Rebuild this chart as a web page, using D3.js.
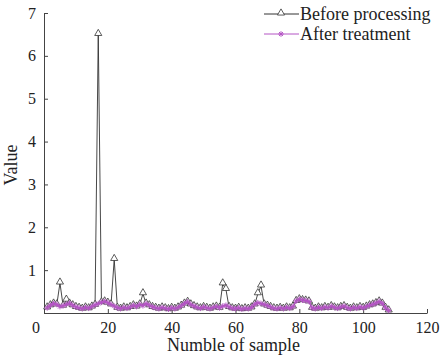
<!DOCTYPE html>
<html><head><meta charset="utf-8">
<script src="https://cdn.jsdelivr.net/npm/d3@7"></script>
<style>body{margin:0;background:#fff}svg{display:block}text{font-family:"Liberation Serif","Times New Roman",serif}</style>
</head><body><svg id="c" width="441" height="355"></svg>
<script>
const samples = d3.range(1, 109);
const beforeProcessing = [
0.12,0.17,0.21,0.19,0.70,0.16,0.30,0.21,0.17,0.13,
0.11,0.09,0.12,0.10,0.14,0.18,6.50,0.24,0.26,0.23,
0.19,1.25,0.11,0.09,0.12,0.10,0.13,0.17,0.14,0.19,
0.45,0.21,0.17,0.13,0.11,0.09,0.12,0.10,0.08,0.11,
0.09,0.12,0.16,0.21,0.25,0.19,0.15,0.12,0.10,0.13,
0.11,0.09,0.12,0.14,0.11,0.68,0.55,0.13,0.10,0.09,
0.11,0.08,0.10,0.09,0.12,0.19,0.45,0.63,0.19,0.16,
0.13,0.10,0.09,0.11,0.09,0.12,0.10,0.14,0.27,0.31,
0.29,0.28,0.26,0.11,0.09,0.12,0.10,0.13,0.11,0.15,
0.12,0.10,0.13,0.15,0.11,0.09,0.12,0.10,0.13,0.11,
0.14,0.17,0.19,0.22,0.26,0.21,0.11,0.05];
const afterTreatment = [
0.12,0.18,0.22,0.20,0.15,0.17,0.20,0.23,0.18,0.14,
0.12,0.10,0.13,0.11,0.15,0.19,0.22,0.25,0.27,0.24,
0.20,0.16,0.12,0.10,0.13,0.11,0.14,0.18,0.15,0.20,
0.17,0.22,0.18,0.14,0.12,0.10,0.13,0.11,0.09,0.12,
0.10,0.13,0.17,0.22,0.26,0.20,0.16,0.13,0.11,0.14,
0.12,0.10,0.13,0.15,0.12,0.16,0.18,0.14,0.11,0.10,
0.12,0.09,0.11,0.10,0.13,0.20,0.24,0.22,0.20,0.17,
0.14,0.11,0.10,0.12,0.10,0.13,0.11,0.15,0.28,0.32,
0.30,0.29,0.27,0.12,0.10,0.13,0.11,0.14,0.12,0.16,
0.13,0.11,0.14,0.16,0.12,0.10,0.13,0.11,0.14,0.12,
0.15,0.18,0.20,0.23,0.27,0.22,0.12,0.06];
const xTicks = [0,20,40,60,80,100,120];
const yTicks = [0,1,2,3,4,5,6,7];
const seriesNames = ["Before processing","After treatment"];
const colBefore = "#333333", colAfter = "#b455c4";

const svg = d3.select("#c");
const L=44, R=427, T=13, B=313;
const x = d3.scaleLinear().domain([0,120]).range([L,R]);
const y = d3.scaleLinear().domain([0,7]).range([B,T]);

const xa = svg.append("g").attr("transform",`translate(0,${B})`)
  .call(d3.axisBottom(x).tickValues(xTicks).tickSizeInner(-4).tickSizeOuter(0).tickPadding(9)
    .tickFormat(d=>d===0?"":d));
const ya = svg.append("g").attr("transform",`translate(${L},0)`)
  .call(d3.axisLeft(y).tickValues(yTicks).tickSizeInner(-4).tickSizeOuter(0).tickPadding(8)
    .tickFormat(d=>d===0?"":d));
[xa,ya].forEach(g=>{
  g.attr("font-family","Liberation Serif");
  g.select(".domain").attr("stroke","#444").attr("stroke-width",1);
  g.selectAll(".tick line").attr("stroke","#444");
  g.selectAll("text").attr("font-size",16).attr("fill","#222").attr("font-family","Liberation Serif");
});
xa.selectAll(".tick text").attr("dy","0.71em");
svg.append("text").attr("x",36).attr("y",B+20).attr("text-anchor","middle")
  .attr("font-size",16).attr("fill","#222").text("0");

svg.append("text").attr("x",(L+R)/2-2).attr("y",351).attr("text-anchor","middle")
  .attr("font-size",18).attr("fill","#222").text("Numble of sample");
svg.append("text").attr("transform","translate(17,165) rotate(-90)").attr("text-anchor","middle")
  .attr("font-size",18).attr("fill","#222").text("Value");

const line = d3.line().x((d,i)=>x(samples[i])).y(d=>y(d));
const tri = d3.symbol().type(d3.symbolTriangle).size(22);

function starPath(cx,cy,r){
  let p="";
  for(let k=0;k<4;k++){const a=k*Math.PI/4;const dx=r*Math.cos(a),dy=r*Math.sin(a);
    p+=`M${cx-dx},${cy-dy}L${cx+dx},${cy+dy}`;}
  return p;
}

svg.append("path").datum(beforeProcessing).attr("d",line).attr("fill","none")
  .attr("stroke",colBefore).attr("stroke-width",0.9);
svg.append("g").selectAll("path").data(beforeProcessing).join("path")
  .attr("d",tri).attr("transform",(d,i)=>`translate(${x(samples[i])},${y(d)-1})`)
  .attr("fill","#fff").attr("stroke",colBefore).attr("stroke-width",0.8);
svg.append("path").datum(afterTreatment).attr("d",line).attr("fill","none")
  .attr("stroke",colAfter).attr("stroke-width",1.3);
svg.append("g").selectAll("path").data(afterTreatment).join("path")
  .attr("d",(d,i)=>starPath(x(samples[i]),y(d),2.8))
  .attr("fill","none").attr("stroke",colAfter).attr("stroke-width",1);

const lg = svg.append("g");
[[0,14],[1,34]].forEach(([k,ly])=>{
  const c = k===0?colBefore:colAfter;
  lg.append("line").attr("x1",264).attr("x2",299).attr("y1",ly).attr("y2",ly).attr("stroke",c).attr("stroke-width",1);
  if(k===0) lg.append("path").attr("d",tri).attr("transform",`translate(281,${ly-1})`).attr("fill","#fff").attr("stroke",c).attr("stroke-width",0.8);
  else lg.append("path").attr("d",starPath(281,ly,2.8)).attr("stroke",c).attr("stroke-width",1);
  lg.append("text").attr("x",300).attr("y",ly).attr("dy","0.33em").attr("font-size",18).attr("fill","#222").text(seriesNames[k]);
});
</script></body></html>
